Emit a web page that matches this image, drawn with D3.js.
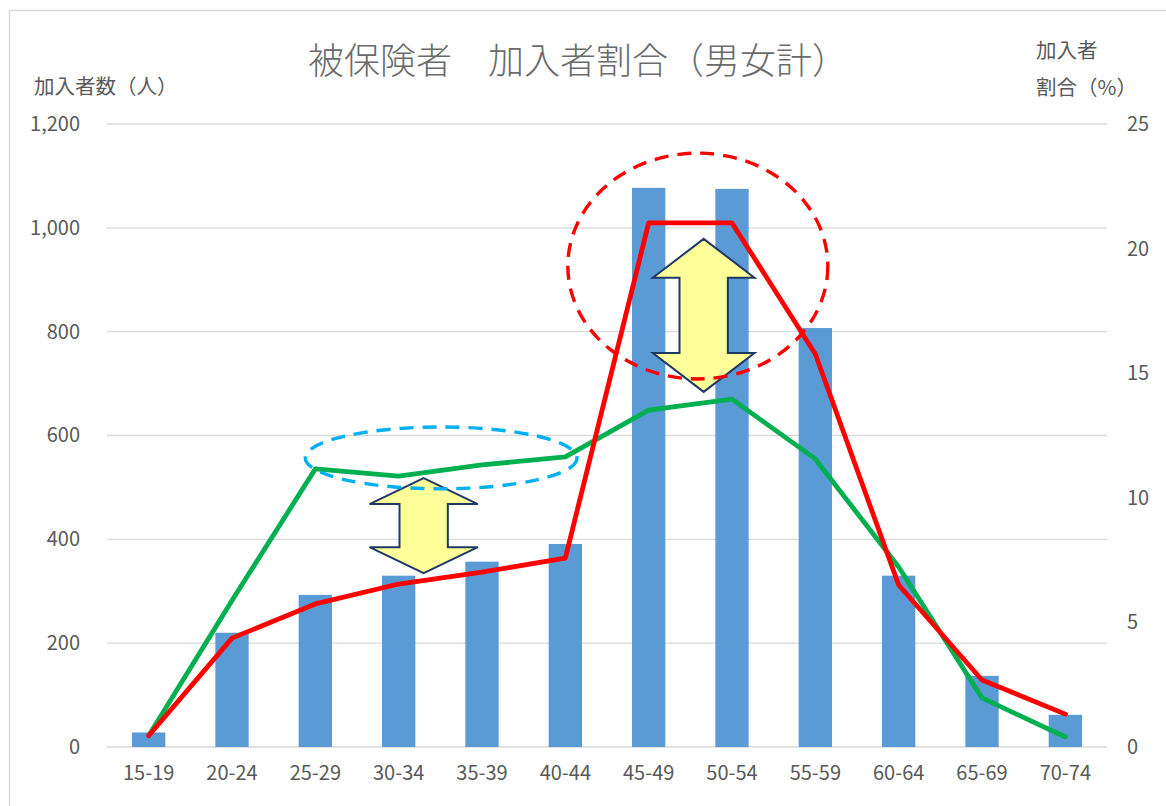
<!DOCTYPE html>
<html>
<head>
<meta charset="utf-8">
<script src="https://cdn.jsdelivr.net/npm/d3@7"></script>
<style>
  html, body { margin: 0; padding: 0; background: #fff; }
  svg text { font-family: "Noto Sans CJK JP", "Noto Sans", sans-serif; fill: #595959; }
</style>
</head>
<body>
<svg id="chart" width="1166" height="806"></svg>
<script>
"use strict";

// age bands and values
const ageGroups = ["15-19", "20-24", "25-29", "30-34", "35-39", "40-44",
                   "45-49", "50-54", "55-59", "60-64", "65-69", "70-74"];
const members = [28, 220, 293, 330, 357, 391, 1077, 1075, 807, 330, 137, 62];
const shareRed = [0.45, 4.37, 5.74, 6.54, 7.02, 7.58, 21.03, 21.03, 15.77, 6.5, 2.69, 1.32];
const shareGreen = [0.45, 5.88, 11.16, 10.87, 11.32, 11.64, 13.52, 13.96, 11.56, 7.22, 1.97, 0.4];
const leftTicks = [0, 200, 400, 600, 800, 1000, 1200];
const rightTicks = [0, 5, 10, 15, 20, 25];

// annotations in data units (category index, right-axis %)
const ellipses = [
  {cx: 6.59, cy: 19.3, rx: 1.56, ry: 4.53, color: "#ff0000"},
  {cx: 3.51, cy: 11.6, rx: 1.63, ry: 1.24, color: "#00b0f0"}
];
const arrows = [
  {cx: 3.30, top: 10.79, bottom: 6.98, hw: 0.65, sw: 0.29, hh: 1.04},
  {cx: 6.66, top: 20.39, bottom: 14.25, hw: 0.61, sw: 0.29, hh: 1.56}
];

const svg = d3.select("#chart");
const M = {left: 107, right: 1107, top: 124, bottom: 747};

// chart frame
svg.append("rect").attr("x", 9.5).attr("y", 10.5).attr("width", 1170).attr("height", 820)
  .attr("fill", "#fff").attr("stroke", "#d9d9d9").attr("stroke-width", 1.5);

const x = d3.scaleBand().domain(ageGroups).range([M.left, M.right])
  .paddingInner(0.6).paddingOuter(0.3);
const xi = d3.scaleLinear().domain([0, 11])
  .range([x(ageGroups[0]) + x.bandwidth() / 2, x(ageGroups[11]) + x.bandwidth() / 2]);
const step = xi(1) - xi(0);
const yL = d3.scaleLinear().domain([0, 1200]).range([M.bottom, M.top]);
const yR = d3.scaleLinear().domain([0, 25]).range([M.bottom, M.top]);

// gridlines
svg.append("g").selectAll("line").data(leftTicks).enter().append("line")
  .attr("x1", M.left).attr("x2", M.right)
  .attr("y1", d => yL(d)).attr("y2", d => yL(d))
  .attr("stroke", "#d9d9d9").attr("stroke-width", 1.3);

// left axis
const axL = svg.append("g").attr("transform", `translate(${M.left},0)`)
  .call(d3.axisLeft(yL).tickValues(leftTicks).tickSize(0).tickPadding(27).tickFormat(d3.format(",")));
axL.select(".domain").remove();
axL.selectAll("text").attr("font-size", 20).attr("fill", "#595959");

// right axis
const axR = svg.append("g").attr("transform", `translate(${M.right},0)`)
  .call(d3.axisRight(yR).tickValues(rightTicks).tickSize(0).tickPadding(20));
axR.select(".domain").remove();
axR.selectAll("text").attr("font-size", 20).attr("fill", "#595959");

// bottom axis
const axB = svg.append("g").attr("transform", `translate(0,${M.bottom})`)
  .call(d3.axisBottom(x).tickSize(0).tickPadding(19));
axB.select(".domain").remove();
axB.selectAll("text").attr("font-size", 20).attr("fill", "#595959");

// bars
svg.append("g").selectAll("rect").data(members).enter().append("rect")
  .attr("x", (d, i) => x(ageGroups[i]))
  .attr("y", d => yL(d))
  .attr("width", x.bandwidth())
  .attr("height", d => yL(0) - yL(d))
  .attr("fill", "#5b9bd5");

// lines
const line = d3.line().x((d, i) => xi(i)).y(d => yR(d));
svg.append("path").datum(shareGreen).attr("d", line)
  .attr("fill", "none").attr("stroke", "#00b050").attr("stroke-width", 4.8)
  .attr("stroke-linejoin", "round").attr("stroke-linecap", "round");
svg.append("path").datum(shareRed).attr("d", line)
  .attr("fill", "none").attr("stroke", "#ff0000").attr("stroke-width", 4.8)
  .attr("stroke-linejoin", "round").attr("stroke-linecap", "round");

// double arrows
const unit = yR(0) - yR(1);
svg.append("g").selectAll("polygon").data(arrows).enter().append("polygon")
  .attr("points", a => {
    const cx = xi(a.cx), t = yR(a.top), b = yR(a.bottom);
    const hw = a.hw * step, sw = a.sw * step, hh = a.hh * unit;
    return [[cx, t], [cx + hw, t + hh], [cx + sw, t + hh], [cx + sw, b - hh], [cx + hw, b - hh],
            [cx, b], [cx - hw, b - hh], [cx - sw, b - hh], [cx - sw, t + hh], [cx - hw, t + hh]]
      .map(p => p.join(",")).join(" ");
  })
  .attr("fill", "#ffff99").attr("stroke", "#203864").attr("stroke-width", 2)
  .attr("stroke-linejoin", "miter");

// dashed ellipses
svg.append("g").selectAll("ellipse").data(ellipses).enter().append("ellipse")
  .attr("cx", e => xi(e.cx)).attr("cy", e => yR(e.cy))
  .attr("rx", e => e.rx * step).attr("ry", e => e.ry * unit)
  .attr("fill", "none").attr("stroke", e => e.color)
  .attr("stroke-width", 3.4).attr("stroke-dasharray", "14,9");

// titles
svg.append("text").attr("x", 578).attr("y", 74).attr("text-anchor", "middle")
  .attr("font-size", 36).attr("font-weight", 300).style("fill", "#6b6b6b")
  .text("被保険者　加入者割合（男女計）");
svg.append("text").attr("x", 34).attr("y", 94).attr("font-size", 20.5).text("加入者数（人）");
svg.append("text").attr("x", 1036).attr("y", 58).attr("font-size", 20.5).text("加入者");
svg.append("text").attr("x", 1036).attr("y", 95).attr("font-size", 20.5).text("割合（%）");
</script>
</body>
</html>
